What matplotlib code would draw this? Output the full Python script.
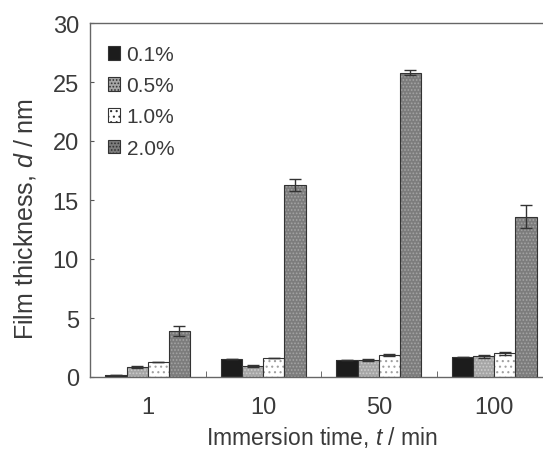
import numpy as np
import matplotlib
matplotlib.use("Agg")
import matplotlib.pyplot as plt
from matplotlib.patches import Patch

plt.rcParams['font.family'] = ['Liberation Sans', 'DejaVu Sans']
plt.rcParams['mathtext.fontset'] = 'custom'
plt.rcParams['mathtext.rm'] = 'Liberation Sans'
plt.rcParams['mathtext.it'] = 'Liberation Sans:italic'
plt.rcParams['hatch.linewidth'] = 0.8

# data
times = ['1', '10', '50', '100']
labels = ['0.1%', '0.5%', '1.0%', '2.0%']
c01 = [0.2, 1.55, 1.45, 1.7]
c05 = [0.85, 0.95, 1.45, 1.75]
c10 = [1.3, 1.6, 1.85, 2.0]
c20 = [3.9, 16.3, 25.8, 13.6]
e01 = [0, 0, 0, 0]
e05 = [0.05, 0.1, 0.1, 0.15]
e10 = [0, 0, 0.1, 0.1]
e20 = [0.4, 0.5, 0.2, 1.0]

series = [c01, c05, c10, c20]
errs = [e01, e05, e10, e20]
fills = ['#1c1c1c', '#a6a6a6', '#ffffff', '#7c7c7c']
dots = ['#1c1c1c', '#cccccc', '#a0a0a0', '#a4a4a4']
hatches = [None, '.....', '...', '.....']
txt = '#3a3a3a'

fig = plt.figure(figsize=(5.43, 4.52), dpi=100)
ax = fig.add_axes([90/543, 74/452, 462/543, 354/452])

x = np.arange(len(times))
w = 0.183
for i, (vals, er) in enumerate(zip(series, errs)):
    pos = x + (i - 1.5) * w
    ax.bar(pos, vals, w, color=fills[i], edgecolor=dots[i], hatch=hatches[i], linewidth=0)
    ax.bar(pos, vals, w, fill=False, edgecolor='#333333', linewidth=0.8)
    ax.errorbar(pos, vals, yerr=er, fmt='none', ecolor='#333333', elinewidth=1, capsize=4, capthick=1)

ax.set_xlim(-0.5, 3.5)
ax.set_ylim(0, 30)
ax.set_yticks([0, 5, 10, 15, 20, 25, 30])
ax.set_xticks(x)
ax.set_xticklabels(times)
ax.set_xticks(x[:-1] + 0.5, minor=True)
ax.tick_params(axis='x', which='major', length=0, pad=14, labelsize=17, labelcolor=txt)
ax.tick_params(axis='x', which='minor', direction='in', length=4, color='#555555')
ax.tick_params(axis='y', direction='in', length=3, labelsize=17, labelcolor=txt, pad=8, color='#555555')
for s in ax.spines.values():
    s.set_color('#666666')
    s.set_linewidth(1)

ax.set_xlabel('Immersion time, $\\it{t}$ / min', fontsize=16.5, color=txt)
ax.xaxis.set_label_coords(0.502, -0.133)
ax.set_ylabel('Film thickness, $\\it{d}$ / nm', fontsize=18, color=txt)
ax.yaxis.set_label_coords(-0.113, 0.45)

handles = [Patch(facecolor=fills[i], edgecolor='#333333', hatch=hatches[i], linewidth=0.8) for i in range(4)]
leg = ax.legend(handles, labels, loc='upper left', frameon=False, fontsize=15,
                handlelength=0.6, handleheight=0.6, handletextpad=0.3, labelspacing=0.58,
                bbox_to_anchor=(-0.002, 0.99), labelcolor=txt)

fig.savefig('out.png', dpi=100)
